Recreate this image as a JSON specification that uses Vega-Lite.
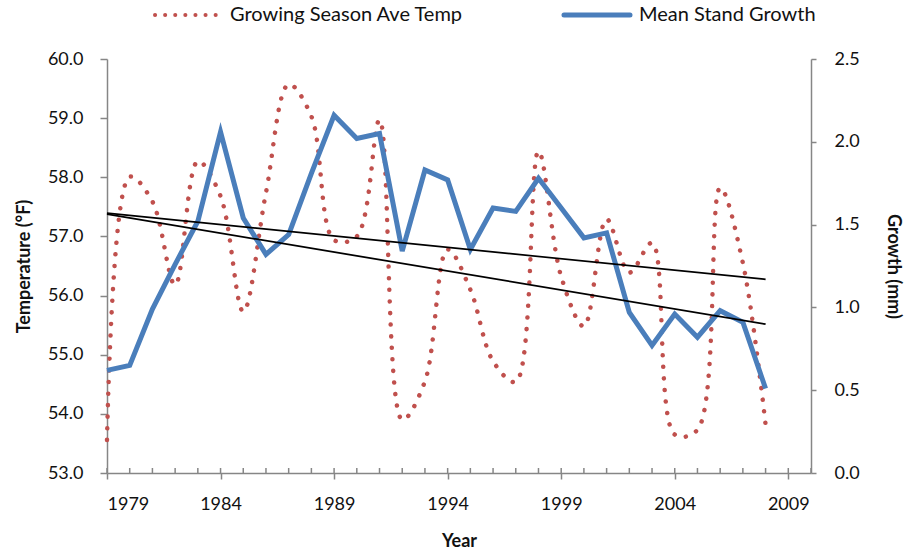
{
  "$schema": "https://vega.github.io/schema/vega-lite/v6.json",
  "width": 704,
  "height": 414,
  "autosize": {"type": "none"},
  "padding": {"left": 107, "top": 59, "right": 95, "bottom": 79},
  "background": "white",
  "config": {
    "view": {"stroke": null},
    "font": "Lato",
    "axis": {
      "grid": false,
      "domainColor": "#868686",
      "tickColor": "#868686",
      "domainWidth": 1.5,
      "tickWidth": 1.5,
      "labelColor": "#111111",
      "titleColor": "#111111",
      "labelFont": "Lato",
      "titleFont": "Lato",
      "labelFontSize": 18,
      "titleFontSize": 18,
      "titleFontWeight": "bold"
    }
  },
  "datasets": {
    "series": [
      {"year": 1979, "temp": 53.56, "growth": 0.62},
      {"year": 1980, "temp": 58.01, "growth": 0.65},
      {"year": 1981, "temp": 57.59, "growth": 0.99},
      {"year": 1982, "temp": 56.18, "growth": 1.26},
      {"year": 1983, "temp": 58.27, "growth": 1.52},
      {"year": 1984, "temp": 57.68, "growth": 2.06},
      {"year": 1985, "temp": 55.73, "growth": 1.54},
      {"year": 1986, "temp": 57.74, "growth": 1.32},
      {"year": 1987, "temp": 59.57, "growth": 1.44},
      {"year": 1988, "temp": 59.03, "growth": 1.81},
      {"year": 1989, "temp": 56.94, "growth": 2.16},
      {"year": 1990, "temp": 57.0, "growth": 2.02},
      {"year": 1991, "temp": 58.97, "growth": 2.05},
      {"year": 1992, "temp": 53.9, "growth": 1.34},
      {"year": 1993, "temp": 54.55, "growth": 1.83},
      {"year": 1994, "temp": 56.78, "growth": 1.77},
      {"year": 1995, "temp": 56.1, "growth": 1.35},
      {"year": 1996, "temp": 54.89, "growth": 1.6},
      {"year": 1997, "temp": 54.54, "growth": 1.58},
      {"year": 1998, "temp": 58.44, "growth": 1.78},
      {"year": 1999, "temp": 56.32, "growth": 1.6},
      {"year": 2000, "temp": 55.48, "growth": 1.42},
      {"year": 2001, "temp": 57.29, "growth": 1.45},
      {"year": 2002, "temp": 56.39, "growth": 0.97},
      {"year": 2003, "temp": 56.89, "growth": 0.77},
      {"year": 2004, "temp": 53.65, "growth": 0.96},
      {"year": 2005, "temp": 53.73, "growth": 0.82},
      {"year": 2006, "temp": 57.82, "growth": 0.98},
      {"year": 2007, "temp": 56.55, "growth": 0.91},
      {"year": 2008, "temp": 53.82, "growth": 0.51}
    ],
    "minorTicks": [
      {"year": 1979}, {"year": 1980}, {"year": 1981}, {"year": 1982}, {"year": 1983},
      {"year": 1984}, {"year": 1985}, {"year": 1986}, {"year": 1987}, {"year": 1988},
      {"year": 1989}, {"year": 1990}, {"year": 1991}, {"year": 1992}, {"year": 1993},
      {"year": 1994}, {"year": 1995}, {"year": 1996}, {"year": 1997}, {"year": 1998},
      {"year": 1999}, {"year": 2000}, {"year": 2001}, {"year": 2002}, {"year": 2003},
      {"year": 2004}, {"year": 2005}, {"year": 2006}, {"year": 2007}, {"year": 2008},
      {"year": 2009}, {"year": 2010}
    ]
  },
  "data": {"name": "series"},
  "layer": [
    {
      "mark": {"type": "line", "interpolate": "catmull-rom", "strokeDash": [0.1, 11.5], "strokeCap": "round", "strokeWidth": 4.5},
      "encoding": {
        "x": {
          "field": "year",
          "type": "quantitative",
          "scale": {"domain": [1979, 2010], "nice": false, "zero": false},
          "axis": {"orient": "bottom", "values": [1979, 1984, 1989, 1994, 1999, 2004, 2009], "format": "d", "title": "Year", "tickSize": 6, "labelPadding": 16, "titlePadding": 19}
        },
        "y": {
          "field": "temp",
          "type": "quantitative",
          "scale": {"domain": [53, 60], "nice": false, "zero": false},
          "axis": {"orient": "left", "values": [53, 54, 55, 56, 57, 58, 59, 60], "format": ".1f", "title": "Temperature (°F)", "tickSize": 7, "labelPadding": 17, "titlePadding": 14}
        },
        "color": {
          "datum": "Growing Season Ave Temp",
          "type": "nominal",
          "scale": {"domain": ["Growing Season Ave Temp", "Mean Stand Growth"], "range": ["#C0504D", "#4A7EBB"]},
          "legend": {
            "orient": "none",
            "legendX": 71,
            "legendY": -54,
            "direction": "horizontal",
            "title": null,
            "labelFont": "Lato",
            "labelFontSize": 20,
            "labelColor": "#111111",
            "labelLimit": 400,
            "symbolType": "stroke",
            "symbolSize": 4356,
            "labelOffset": 32,
            "columnPadding": 90,
            "encode": {
              "symbols": {
                "update": {
                  "strokeDash": {"signal": "datum.value === 'Growing Season Ave Temp' ? [0.1, 10] : [1, 0]"},
                  "strokeWidth": {"signal": "datum.value === 'Growing Season Ave Temp' ? 4 : 5"},
                  "strokeCap": {"value": "round"}
                }
              }
            }
          }
        }
      }
    },
    {
      "data": {"name": "minorTicks"},
      "mark": {"type": "tick", "orient": "vertical", "size": 5, "thickness": 1.5, "color": "#868686", "opacity": 1, "yOffset": -2.5},
      "encoding": {
        "x": {"field": "year", "type": "quantitative"},
        "y": {"datum": 53, "type": "quantitative", "scale": {"domain": [53, 60], "nice": false, "zero": false}, "axis": null}
      }
    },
    {
      "mark": {"type": "line", "strokeWidth": 5, "strokeJoin": "miter", "strokeCap": "butt"},
      "encoding": {
        "x": {"field": "year", "type": "quantitative"},
        "y": {
          "field": "growth",
          "type": "quantitative",
          "scale": {"domain": [0, 2.5], "nice": false, "zero": false},
          "axis": {"orient": "right", "values": [0, 0.5, 1, 1.5, 2, 2.5], "format": ".1f", "title": "Growth (mm)", "tickSize": 5, "labelPadding": 18, "titlePadding": 24}
        },
        "color": {"datum": "Mean Stand Growth", "type": "nominal"}
      }
    },
    {
      "transform": [{"regression": "growth", "on": "year"}],
      "mark": {"type": "line", "color": "black", "strokeWidth": 1.75},
      "encoding": {
        "x": {"field": "year", "type": "quantitative"},
        "y": {"field": "growth", "type": "quantitative", "scale": {"domain": [0, 2.5], "nice": false, "zero": false}, "axis": null}
      }
    },
    {
      "transform": [{"regression": "temp", "on": "year"}],
      "mark": {"type": "line", "color": "black", "strokeWidth": 1.75},
      "encoding": {
        "x": {"field": "year", "type": "quantitative"},
        "y": {"field": "temp", "type": "quantitative", "scale": {"domain": [53, 60], "nice": false, "zero": false}, "axis": null}
      }
    }
  ],
  "resolve": {"scale": {"y": "independent"}}
}
